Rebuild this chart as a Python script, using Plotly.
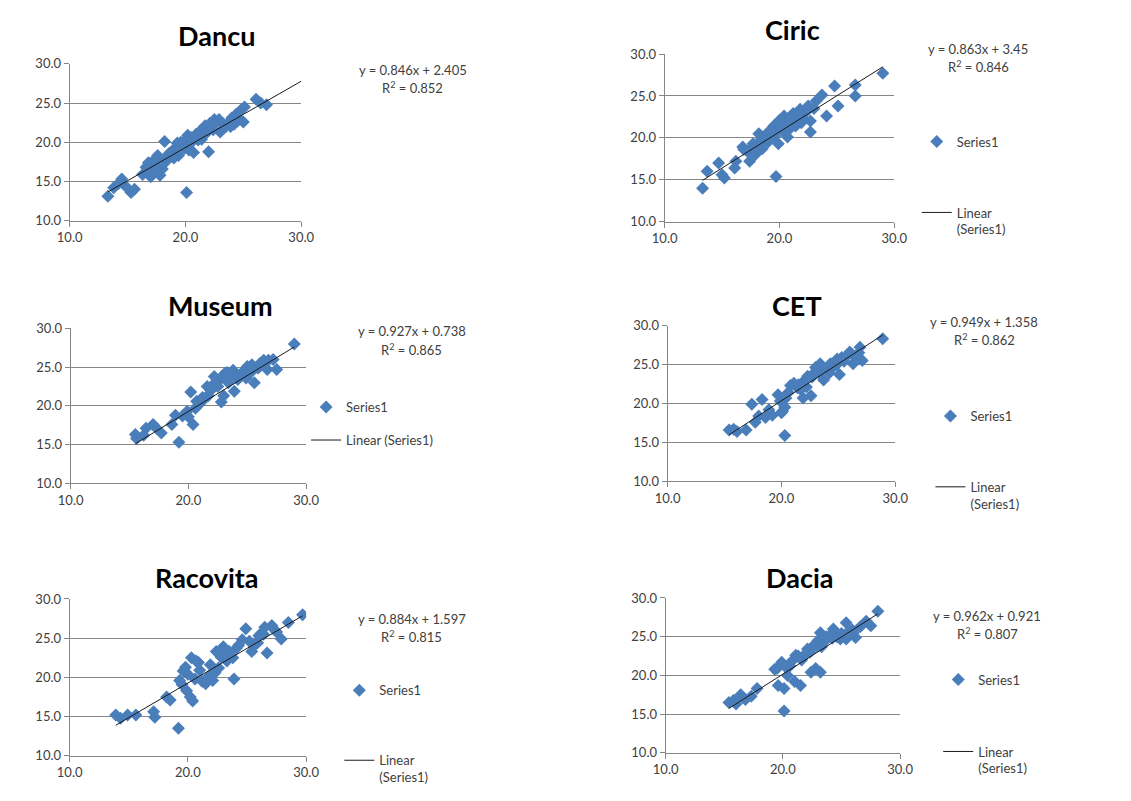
import plotly.graph_objects as go

W, H = 1131, 801

# ---------------- data ----------------
titles = ["Dancu", "Ciric", "Museum", "CET", "Racovita", "Dacia"]
slopes = [0.846, 0.863, 0.927, 0.949, 0.884, 0.962]
intercepts = [2.405, 3.45, 0.738, 1.358, 1.597, 0.921]
r_squared = [0.852, 0.846, 0.865, 0.862, 0.815, 0.807]
slope_labels = ["0.846", "0.863", "0.927", "0.949", "0.884", "0.962"]
intercept_labels = ["2.405", "3.45", "0.738", "1.358", "1.597", "0.921"]
trend_forward_to = [30.0, None, None, None, None, None]
tick_x = [10.0, 20.0, 30.0]
tick_y = [10.0, 15.0, 20.0, 25.0, 30.0]

dancu_x = [13.3, 13.8, 14.2, 14.5, 14.9, 15.3, 15.6, 16.3, 16.6, 16.8, 17.0, 17.2, 17.4, 17.6, 17.8,
           18.0, 18.2, 18.3, 18.6, 18.9, 19.2, 19.4, 19.6, 19.8, 20.0, 20.1, 20.3, 20.5, 20.7, 20.9,
           21.1, 21.3, 21.5, 21.7, 22.0, 22.1, 22.4, 22.7, 23.0, 23.3, 23.5, 23.8, 24.0, 24.2, 24.4,
           24.6, 24.8, 25.0, 25.1, 26.1, 26.5, 27.0, 19.0, 19.9, 20.6, 21.0, 22.9, 17.1,
           17.5, 18.1, 18.8, 19.3, 20.2, 21.4, 21.9, 22.5, 23.2, 23.9, 24.5, 16.9]
dancu_y = [13.1, 14.2, 14.7, 15.3, 14.3, 13.6, 14.0, 15.9, 16.8, 17.4, 15.6, 16.2, 17.9, 18.3, 15.8,
           16.6, 20.1, 17.5, 18.6, 18.9, 19.4, 18.3, 20.0, 19.6, 20.3, 13.6, 19.0, 20.6, 18.7, 21.0,
           20.3, 21.5, 20.9, 22.1, 18.8, 22.4, 21.6, 22.6, 21.3, 21.8, 22.0, 22.6, 23.1, 22.3, 23.6,
           23.0, 24.1, 22.6, 24.5, 25.5, 25.0, 24.8, 18.0, 19.2, 20.1, 20.6, 22.9, 17.0,
           17.0, 17.8, 18.2, 19.9, 20.9, 20.4, 21.3, 22.9, 22.4, 22.0, 22.7, 16.0]

ciric_x = [13.3, 13.7, 14.7, 15.0, 15.2, 16.1, 16.2, 16.8, 17.4, 17.7, 18.0, 18.2, 18.5, 19.0, 19.5,
           19.7, 19.9, 20.4, 20.7, 21.0, 21.4, 21.8, 22.1, 22.5, 22.7, 22.7, 23.2, 23.7, 24.1, 24.8,
           25.1, 26.6, 26.6, 29.0, 17.2, 18.4, 18.8, 19.3, 20.1, 20.6, 20.9, 21.2, 21.6, 22.0, 19.6,
           20.3, 17.9, 16.9, 21.9,
           18.6, 19.1, 19.8, 20.5, 20.8, 21.3, 21.8, 22.3, 20.0, 18.1, 17.5, 23.0]
ciric_y = [14.0, 16.0, 17.0, 15.6, 15.2, 16.4, 17.2, 18.9, 17.2, 19.3, 18.4, 20.5, 18.7, 19.5, 21.4,
           15.4, 19.3, 22.6, 20.1, 22.6, 21.4, 23.4, 22.2, 23.8, 22.0, 20.7, 24.4, 25.1, 22.6, 26.2,
           23.8, 26.3, 25.0, 27.7, 18.4, 19.8, 20.3, 20.6, 21.5, 21.9, 21.1, 22.9, 22.6, 23.0, 20.2,
           20.8, 18.0, 18.6, 21.8,
           19.9, 20.8, 21.0, 21.7, 22.3, 22.0, 22.4, 23.1, 22.1, 19.0, 18.6, 23.5]

museum_x = [15.5, 15.6, 16.4, 17.0, 17.3, 17.7, 18.6, 18.9, 19.2, 20.2, 20.4, 20.6, 21.1, 21.7, 22.2,
            22.5, 22.8, 23.1, 23.4, 23.9, 24.5, 25.0, 25.6, 26.1, 26.7, 27.2, 27.5, 29.0, 19.5, 19.9,
            20.9, 21.4, 22.0, 22.6, 23.6, 24.2, 24.8, 25.3, 25.9, 26.4, 23.0, 21.9, 16.2, 20.0,
            21.2, 22.3, 22.9, 23.3, 23.8, 24.4, 24.9, 25.4, 26.0, 26.8, 21.6, 20.7]
museum_y = [16.3, 15.8, 17.1, 17.6, 17.1, 16.5, 17.6, 18.8, 15.3, 21.8, 17.6, 19.7, 20.5, 21.3, 23.8,
            22.5, 20.5, 24.2, 23.0, 21.9, 24.2, 25.1, 23.0, 25.5, 24.7, 26.0, 24.7, 28.0, 18.7, 19.3,
            20.2, 21.0, 22.6, 23.3, 23.9, 23.4, 24.6, 24.3, 24.9, 25.9, 21.3, 22.0, 16.2, 18.6,
            21.1, 22.7, 23.8, 24.3, 24.6, 24.0, 23.6, 25.3, 25.0, 25.9, 22.5, 20.6]

cet_x = [15.4, 16.1, 16.9, 17.4, 17.7, 18.3, 18.6, 18.9, 19.7, 20.0, 20.3, 20.3, 20.6, 21.1, 21.7,
         22.3, 22.6, 23.1, 23.4, 23.7, 24.3, 24.9, 25.1, 26.0, 26.3, 26.9, 27.1, 28.9, 15.8, 19.2,
         20.1, 21.4, 21.9, 22.0, 22.8, 23.3, 24.0, 24.6, 25.5, 25.8, 26.6, 20.8, 18.0,
         21.5, 22.2, 22.7, 23.0, 23.6, 24.2, 24.8, 25.3, 26.2, 26.8, 19.9, 20.4]
cet_y = [16.6, 16.4, 16.6, 19.9, 17.6, 20.5, 18.2, 19.2, 21.1, 18.8, 19.5, 15.9, 21.4, 22.6, 21.8,
         23.5, 21.0, 24.2, 25.1, 23.0, 25.1, 25.7, 23.7, 26.6, 25.1, 27.2, 25.5, 28.3, 16.7, 18.5,
         19.0, 22.0, 20.7, 22.9, 23.8, 23.9, 24.3, 24.8, 25.4, 26.2, 26.0, 22.3, 18.4,
         22.4, 22.1, 23.4, 24.6, 24.4, 23.9, 24.9, 25.9, 26.3, 26.5, 20.3, 20.7]

racovita_x = [13.9, 14.3, 14.9, 15.6, 17.1, 17.2, 18.2, 18.5, 19.2, 19.3, 19.6, 19.9, 20.2, 20.4, 20.3,
              20.7, 21.5, 22.1, 22.6, 22.9, 23.5, 23.8, 23.9, 24.3, 24.9, 25.4, 26.0, 26.5, 26.7, 27.1,
              27.9, 28.5, 29.7, 19.8, 20.0, 21.8, 22.3, 23.0, 23.3, 24.6, 25.7, 26.2, 27.5, 21.2, 20.9,
              21.0, 21.9, 22.4, 22.8, 23.4, 24.1, 25.2, 25.9, 26.4, 20.6, 19.5, 27.3]
racovita_y = [15.2, 14.8, 15.2, 15.2, 15.6, 14.9, 17.5, 17.1, 13.5, 19.6, 20.8, 18.3, 17.5, 17.0, 22.5,
              22.1, 19.2, 19.6, 21.2, 23.7, 23.3, 22.5, 19.8, 24.1, 26.2, 23.3, 25.3, 26.4, 23.1, 26.6,
              24.9, 27.0, 28.0, 21.3, 20.4, 20.2, 20.6, 23.9, 22.1, 24.8, 24.2, 25.6, 25.8, 19.5, 21.9,
              20.9, 21.6, 23.3, 22.6, 22.9, 23.7, 24.6, 24.4, 25.5, 19.8, 19.1, 26.1]

dacia_x = [15.4, 16.0, 16.4, 16.8, 17.8, 19.3, 19.6, 19.9, 20.1, 20.1, 20.4, 21.0, 21.5, 21.3, 22.1,
           22.4, 22.9, 23.2, 23.2, 23.8, 24.3, 24.9, 25.4, 25.4, 26.0, 27.1, 27.5, 28.1, 15.8, 17.3,
           19.5, 20.6, 21.8, 22.6, 23.0, 23.5, 24.0, 24.6, 25.9, 26.6, 22.8, 20.8,
           21.6, 22.3, 22.7, 23.3, 23.7, 24.2, 25.0, 25.6, 26.2, 20.3, 21.1, 16.6]
dacia_y = [16.5, 16.3, 17.5, 16.9, 18.3, 20.8, 18.7, 21.7, 18.3, 15.4, 20.0, 19.2, 18.7, 22.5, 23.4,
           20.4, 23.8, 25.5, 20.4, 24.9, 26.0, 24.7, 26.8, 24.7, 25.5, 27.0, 26.4, 28.3, 16.8, 17.3,
           20.9, 21.2, 22.6, 23.7, 24.5, 24.3, 25.2, 25.0, 25.9, 26.3, 20.9, 21.9,
           22.0, 23.0, 24.0, 23.7, 25.0, 24.8, 25.4, 25.7, 24.9, 21.0, 22.6, 17.1]

series_x = [dancu_x, ciric_x, museum_x, cet_x, racovita_x, dacia_x]
series_y = [dancu_y, ciric_y, museum_y, cet_y, racovita_y, dacia_y]

# ---------------- layout / style ----------------
# plot-area boxes in pixels (x0, x1, y_top, y_bottom)
boxes = [(58, 295, 57, 217), (667, 902, 47, 218), (59, 300, 327, 485),
         (670, 903, 324, 483), (58, 300, 603, 763), (668, 908, 602, 760)]
title_pos = [(208, 28), (798, 22), (212, 304), (802, 304), (199, 581), (805, 581)]
eq_pos = [(409, 63), (988, 42), (408, 330), (994, 320), (408, 623), (997, 620)]
legend_ids = [None, "legend", "legend2", "legend3", "legend4", "legend5"]
legend_pos = [None, (925, 121), (300, 392), (939, 401), (334, 681), (947, 670)]
legend_gap = [0, 51, 13, 51, 50, 52]
linear_names = [None, "Linear<br>(Series1)", "Linear (Series1)", "Linear<br>(Series1)",
                "Linear<br>(Series1)", "Linear<br>(Series1)"]

FONT = "Lato"
AXC = "#868686"
TXT = "#404040"
BLUE = "#4a7ebb"

fig = go.Figure()
layout = dict(width=W, height=H, margin=dict(l=0, r=0, t=0, b=0),
              paper_bgcolor="white", plot_bgcolor="white",
              font=dict(family=FONT, size=13, color=TXT))
annotations = []

for i in range(6):
    sfx = "" if i == 0 else str(i + 1)
    xa, ya = "x" + sfx, "y" + sfx
    x0, x1, yt, yb = boxes[i]
    xs, ys = series_x[i], series_y[i]
    lid = legend_ids[i]
    show = lid is not None

    fig.add_trace(go.Scatter(
        x=xs, y=ys, mode="markers", name="Series1",
        marker=dict(symbol="diamond", size=10, color=BLUE, line=dict(width=0)),
        xaxis=xa, yaxis=ya, showlegend=show, legend=lid if show else "legend",
        legendgroup="s%d" % i))

    lx0 = min(xs)
    lx1 = trend_forward_to[i] if trend_forward_to[i] is not None else max(xs)
    fig.add_trace(go.Scatter(
        x=[lx0, lx1], y=[slopes[i] * lx0 + intercepts[i], slopes[i] * lx1 + intercepts[i]],
        mode="lines", name=linear_names[i] or "Linear (Series1)",
        line=dict(color="#1a1a1a", width=1),
        xaxis=xa, yaxis=ya, showlegend=show, legend=lid if show else "legend",
        legendgroup="l%d" % i))

    layout["xaxis" + sfx] = dict(
        domain=[x0 / W, x1 / W], range=[10, 30], tickvals=tick_x, tickformat=".1f",
        showgrid=False, zeroline=False, showline=True, linecolor=AXC, linewidth=1,
        ticks="outside", ticklen=5, tickcolor=AXC, anchor=ya,
        tickfont=dict(family=FONT, size=13, color=TXT))
    layout["yaxis" + sfx] = dict(
        domain=[1 - yb / H, 1 - yt / H], range=[10, 30], tickvals=tick_y, tickformat=".1f",
        showgrid=True, gridcolor=AXC, gridwidth=1, zeroline=False, showline=True,
        linecolor=AXC, linewidth=1, ticks="outside", ticklen=5, tickcolor=AXC, anchor=xa,
        tickfont=dict(family=FONT, size=13, color=TXT))

    tx, ty = title_pos[i]
    annotations.append(dict(text="<b>%s</b>" % titles[i], x=tx / W, y=1 - ty / H,
                            xref="paper", yref="paper", showarrow=False,
                            xanchor="center", yanchor="middle",
                            font=dict(family=FONT, size=27, color="#000000")))
    ex, ey = eq_pos[i]
    annotations.append(dict(text="y = %sx + %s" % (slope_labels[i], intercept_labels[i]),
                            x=ex / W, y=1 - ey / H, xref="paper", yref="paper",
                            showarrow=False, xanchor="center", yanchor="middle",
                            font=dict(family=FONT, size=13, color=TXT)))
    annotations.append(dict(text="R<sup>2</sup> = %.3f" % r_squared[i],
                            x=ex / W, y=1 - (ey + 18) / H, xref="paper", yref="paper",
                            showarrow=False, xanchor="center", yanchor="middle",
                            font=dict(family=FONT, size=13, color=TXT)))

    if show:
        lpx, lpy = legend_pos[i]
        layout[lid] = dict(x=lpx / W, y=1 - lpy / H, xanchor="left", yanchor="top",
                           bgcolor="rgba(0,0,0,0)", borderwidth=0,
                           font=dict(family=FONT, size=13, color=TXT),
                           tracegroupgap=legend_gap[i], itemwidth=30, valign="top",
                           traceorder="grouped")

layout["annotations"] = annotations
fig.update_layout(**layout)

fig.write_html("out.html", config={"displayModeBar": False},
               post_script="document.body.style.margin='0';")
